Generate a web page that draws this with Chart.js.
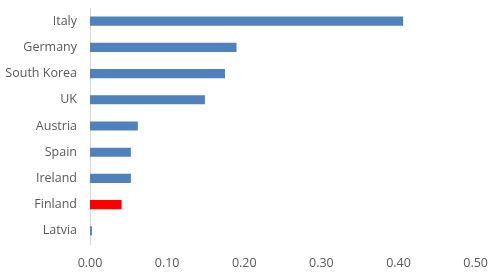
<!DOCTYPE html>
<html>
<head>
<meta charset="utf-8">
<script src="https://cdn.jsdelivr.net/npm/chart.js@4.4.1/dist/chart.umd.min.js"></script>
<style>
  html, body { margin: 0; padding: 0; background: #fff; }
  #wrap { width: 500px; height: 274px; position: relative; }
</style>
</head>
<body>
<div id="wrap"><canvas id="chart"></canvas></div>
<script>
// Data
const countries = ['Italy', 'Germany', 'South Korea', 'UK', 'Austria', 'Spain', 'Ireland', 'Finland', 'Latvia'];
const values = [0.406, 0.190, 0.175, 0.149, 0.062, 0.053, 0.053, 0.041, 0.0025];
const highlight = 'Finland';
const xTicks = [0, 0.1, 0.2, 0.3, 0.4, 0.5];

const blue = '#4F81BD';
const red = '#FF0000';
const barColors = countries.map(c => c === highlight ? red : blue);

const ctx = document.getElementById('chart').getContext('2d');

new Chart(ctx, {
    type: 'bar',
    data: {
        labels: countries,
        datasets: [{
            data: values,
            backgroundColor: barColors,
            borderWidth: 0,
            categoryPercentage: 0.35,
            barPercentage: 1.0
        }]
    },
    options: {
        indexAxis: 'y',
        responsive: true,
        maintainAspectRatio: false,
        animation: false,
        layout: { padding: { top: 8, right: 23, left: 0, bottom: 0 } },
        plugins: {
            legend: { display: false },
            tooltip: { enabled: false }
        },
        scales: {
            x: {
                min: 0,
                max: 0.5,
                afterBuildTicks: axis => { axis.ticks = xTicks.map(v => ({ value: v })); },
                afterFit: axis => { axis.height = 30; },
                grid: { display: false, drawTicks: false },
                border: { display: false },
                ticks: {
                    padding: 12,
                    color: '#595959',
                    font: { family: 'Open Sans', size: 12.5 },
                    callback: v => Number(v).toFixed(2)
                }
            },
            y: {
                afterFit: axis => {
                    axis.width = 90;
                    axis.paddingTop = 0;
                    axis.paddingBottom = 0;
                },
                grid: { display: false, drawTicks: false },
                border: { display: true, color: '#D9D9D9', width: 1 },
                ticks: {
                    padding: 13,
                    color: '#595959',
                    font: { family: 'Open Sans', size: 12.5 }
                }
            }
        }
    }
});
</script>
</body>
</html>
